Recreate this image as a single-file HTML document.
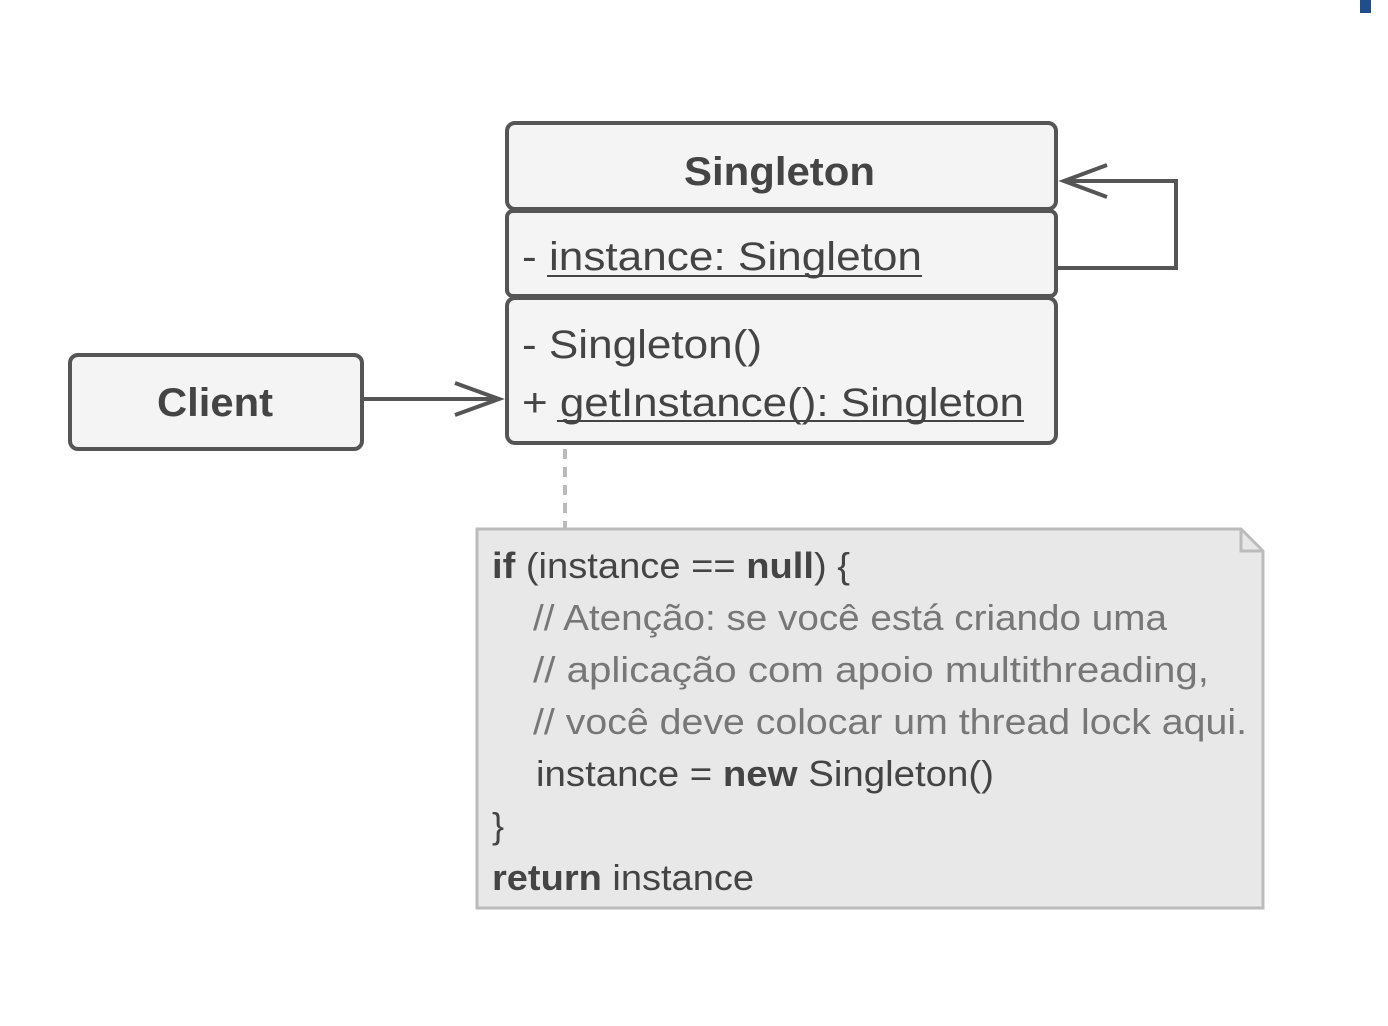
<!DOCTYPE html>
<html><head><meta charset="utf-8"><style>
html,body{margin:0;padding:0;background:#fff;}
svg{display:block;}
text{font-family:"Liberation Sans",sans-serif;}
</style></head><body>
<svg width="1388" height="1026" viewBox="0 0 1388 1026" xmlns="http://www.w3.org/2000/svg">
<rect x="1360" y="0" width="11" height="13" fill="#1f4e8c"/>
<!-- Singleton -->
<g fill="#f4f4f4" stroke="#555" stroke-width="4">
<rect x="507" y="123" width="549" height="86" rx="8"/>
<rect x="507" y="211" width="549" height="85" rx="6"/>
<rect x="507" y="298" width="549" height="145" rx="8"/>
<rect x="70" y="355" width="292" height="94" rx="8"/>
</g>
<text x="684" y="185" font-size="40" font-weight="bold" fill="#444" textLength="191" lengthAdjust="spacingAndGlyphs">Singleton</text>
<text x="157" y="416" font-size="40" font-weight="bold" fill="#444" textLength="116" lengthAdjust="spacingAndGlyphs">Client</text>
<text x="522" y="270" font-size="40" fill="#444" textLength="400" lengthAdjust="spacingAndGlyphs">- instance: Singleton</text>
<line x1="547" y1="276" x2="922" y2="276" stroke="#444" stroke-width="2"/>
<text x="522" y="358" font-size="40" fill="#444" textLength="240" lengthAdjust="spacingAndGlyphs">- Singleton()</text>
<text x="522" y="416" font-size="40" fill="#444" textLength="502" lengthAdjust="spacingAndGlyphs">+ getInstance(): Singleton</text>
<line x1="557" y1="421" x2="1024" y2="421" stroke="#444" stroke-width="2"/>
<!-- arrows -->
<g stroke="#555" stroke-width="4" fill="none">
<line x1="362" y1="399" x2="500" y2="399"/>
<polyline points="455,383 499,399 455,415"/>
<polyline points="1058,268 1176,268 1176,181 1064,181"/>
<polyline points="1107,165 1064,181 1107,197"/>
</g>
<line x1="565" y1="449" x2="565" y2="529" stroke="#bbb" stroke-width="4" stroke-dasharray="10,8"/>
<!-- note -->
<path d="M477,529 L1241,529 L1263,551 L1263,908 L477,908 Z" fill="#e8e8e8" stroke="#bbb" stroke-width="3"/>
<path d="M1241,529 L1241,551 L1263,551" fill="none" stroke="#bbb" stroke-width="3"/>
<g font-size="36">
<text x="492" y="578" fill="#444" textLength="358" lengthAdjust="spacingAndGlyphs"><tspan font-weight="bold">if</tspan> (instance == <tspan font-weight="bold">null</tspan>) {</text>
<text x="533" y="630" fill="#777" textLength="634" lengthAdjust="spacingAndGlyphs">// Atenção: se você está criando uma</text>
<text x="533" y="682" fill="#777" textLength="676" lengthAdjust="spacingAndGlyphs">// aplicação com apoio multithreading,</text>
<text x="533" y="734" fill="#777" textLength="714" lengthAdjust="spacingAndGlyphs">// você deve colocar um thread lock aqui.</text>
<text x="536" y="786" fill="#444" textLength="458" lengthAdjust="spacingAndGlyphs">instance = <tspan font-weight="bold">new</tspan> Singleton()</text>
<text x="492" y="838" fill="#444">}</text>
<text x="492" y="890" fill="#444" textLength="262" lengthAdjust="spacingAndGlyphs"><tspan font-weight="bold">return</tspan> instance</text>
</g>
</svg>
</body></html>
